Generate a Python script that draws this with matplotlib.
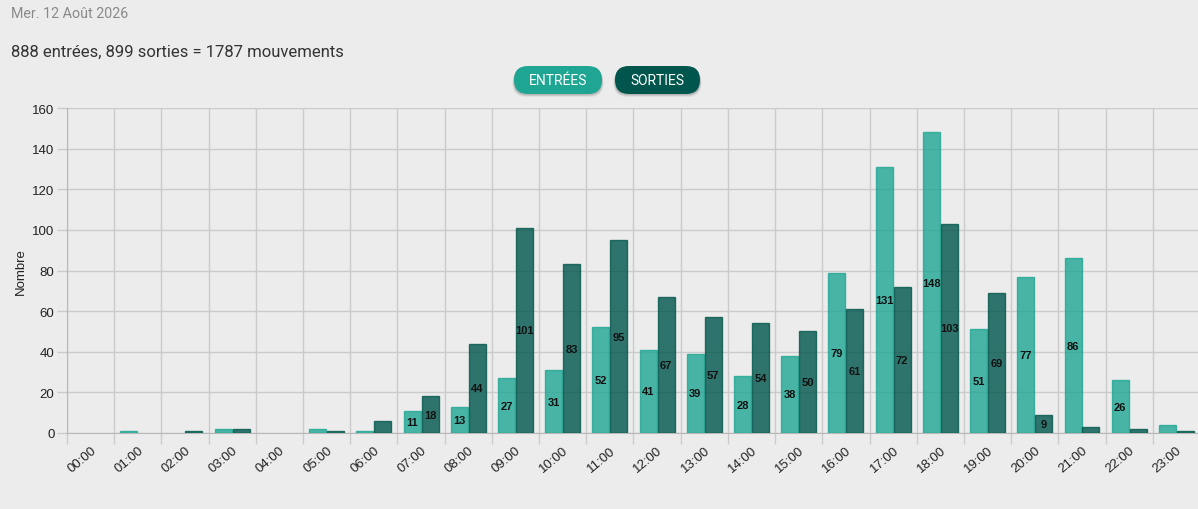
import matplotlib
matplotlib.use("Agg")
import matplotlib.pyplot as plt
from matplotlib.patches import FancyBboxPatch
import numpy as np

hours = [f"{h:02d}:00" for h in range(24)]
entrees = [0, 1, 0, 2, 0, 2, 1, 11, 13, 27, 31, 52, 41, 39, 28, 38, 79, 131, 148, 51, 77, 86, 26, 4]
sorties = [0, 0, 1, 2, 0, 1, 6, 18, 44, 101, 83, 95, 67, 57, 54, 50, 61, 72, 103, 69, 9, 3, 2, 1]
yticks = [0, 20, 40, 60, 80, 100, 120, 140, 160]

title_date = "Mer. 12 Août 2026"
summary = "888 entrées, 899 sorties = 1787 mouvements"
ylabel = "Nombre"
legend_labels = ["ENTRÉES", "SORTIES"]

bg = "#ececec"
c_ent = "#1fa693"
c_sor = "#00564c"
grid_c = "#cbcbcb"
chart_font = ["Liberation Sans", "DejaVu Sans"]

W, H = 1198, 510
fig = plt.figure(figsize=(W / 100, H / 100), dpi=100, facecolor=bg)

left, right, top, bottom = 67, 1200, 109, 434
ax = fig.add_axes([left / W, 1 - bottom / H, (right - left) / W, (bottom - top) / H])
ax.set_facecolor(bg)

x = np.arange(len(hours))
bw = 0.36
off = 0.19
for xs, vals, col in ((x - off, entrees, c_ent), (x + off, sorties, c_sor)):
    lw = [1 if v > 0 else 0 for v in vals]
    ax.bar(xs, vals, bw, color=col, alpha=0.8, edgecolor=col, linewidth=lw, zorder=3)
    for xi, v in zip(xs, vals):
        if v >= 9:
            ax.text(xi, v / 2, str(v), ha="center", va="center", fontsize=8,
                    fontweight="bold", color="#111111", family=chart_font, zorder=4)

ax.set_xlim(-0.5, len(hours) - 0.5)
ax.set_ylim(0, 160)
ax.set_yticks(yticks)
ax.set_yticklabels([str(v) for v in yticks], fontsize=9.5, family=chart_font, color="#222222")
ax.set_xticks(x)
ax.set_xticklabels(hours, rotation=40, ha="right", rotation_mode="anchor",
                   fontsize=9.5, family=chart_font, color="#222222")
ax.set_xticks(np.arange(len(hours) + 1) - 0.5, minor=True)
ax.tick_params(axis="x", which="major", length=0, pad=8)
ax.tick_params(axis="x", which="minor", length=8, color=grid_c, width=1)
ax.tick_params(axis="y", length=7, color=grid_c, width=1, pad=2)
ax.grid(True, which="minor", axis="x", color=grid_c, linewidth=1, zorder=0)
ax.grid(True, which="major", axis="y", color=grid_c, linewidth=1, zorder=0)
for s in ("top", "right"):
    ax.spines[s].set_visible(False)
ax.spines["left"].set_color("#b8b8b8")
ax.spines["bottom"].set_color("#b8b8b8")
ax.set_axisbelow(True)

ax.set_ylabel(ylabel, fontsize=9.5, family=chart_font, color="#222222")
ax.yaxis.set_label_coords(-(67 - 27) / (right - left), 0.5)

# overlay in pixel coords
ov = fig.add_axes([0, 0, 1, 1], zorder=5)
ov.set_xlim(0, W)
ov.set_ylim(H, 0)
ov.axis("off")
ov.patch.set_alpha(0)

ov.text(11, 14, title_date, fontsize=10.3, color="#8a8a8a", family="Roboto", va="center", ha="left")
ov.text(11, 52, summary, fontsize=12, color="#333333", family="Roboto", va="center", ha="left")

buttons = [(514, 602, c_ent, legend_labels[0]), (615, 700, c_sor, legend_labels[1])]
for x0, x1, col, lab in buttons:
    for k, a in ((3.0, 0.06), (2.0, 0.08), (1.2, 0.1)):
        sh = FancyBboxPatch((x0 - k / 2, 67 + k), x1 - x0 + k, 28, boxstyle="round,pad=0,rounding_size=14",
                            facecolor="#000000", alpha=a, edgecolor="none")
        ov.add_patch(sh)
    p = FancyBboxPatch((x0, 67), x1 - x0, 28, boxstyle="round,pad=0,rounding_size=14",
                       facecolor=col, edgecolor="none")
    ov.add_patch(p)
    ov.text((x0 + x1) / 2, 81, lab, fontsize=10, color="white", family="Roboto",
            ha="center", va="center")

fig.savefig("out.png", dpi=100, facecolor=bg)
